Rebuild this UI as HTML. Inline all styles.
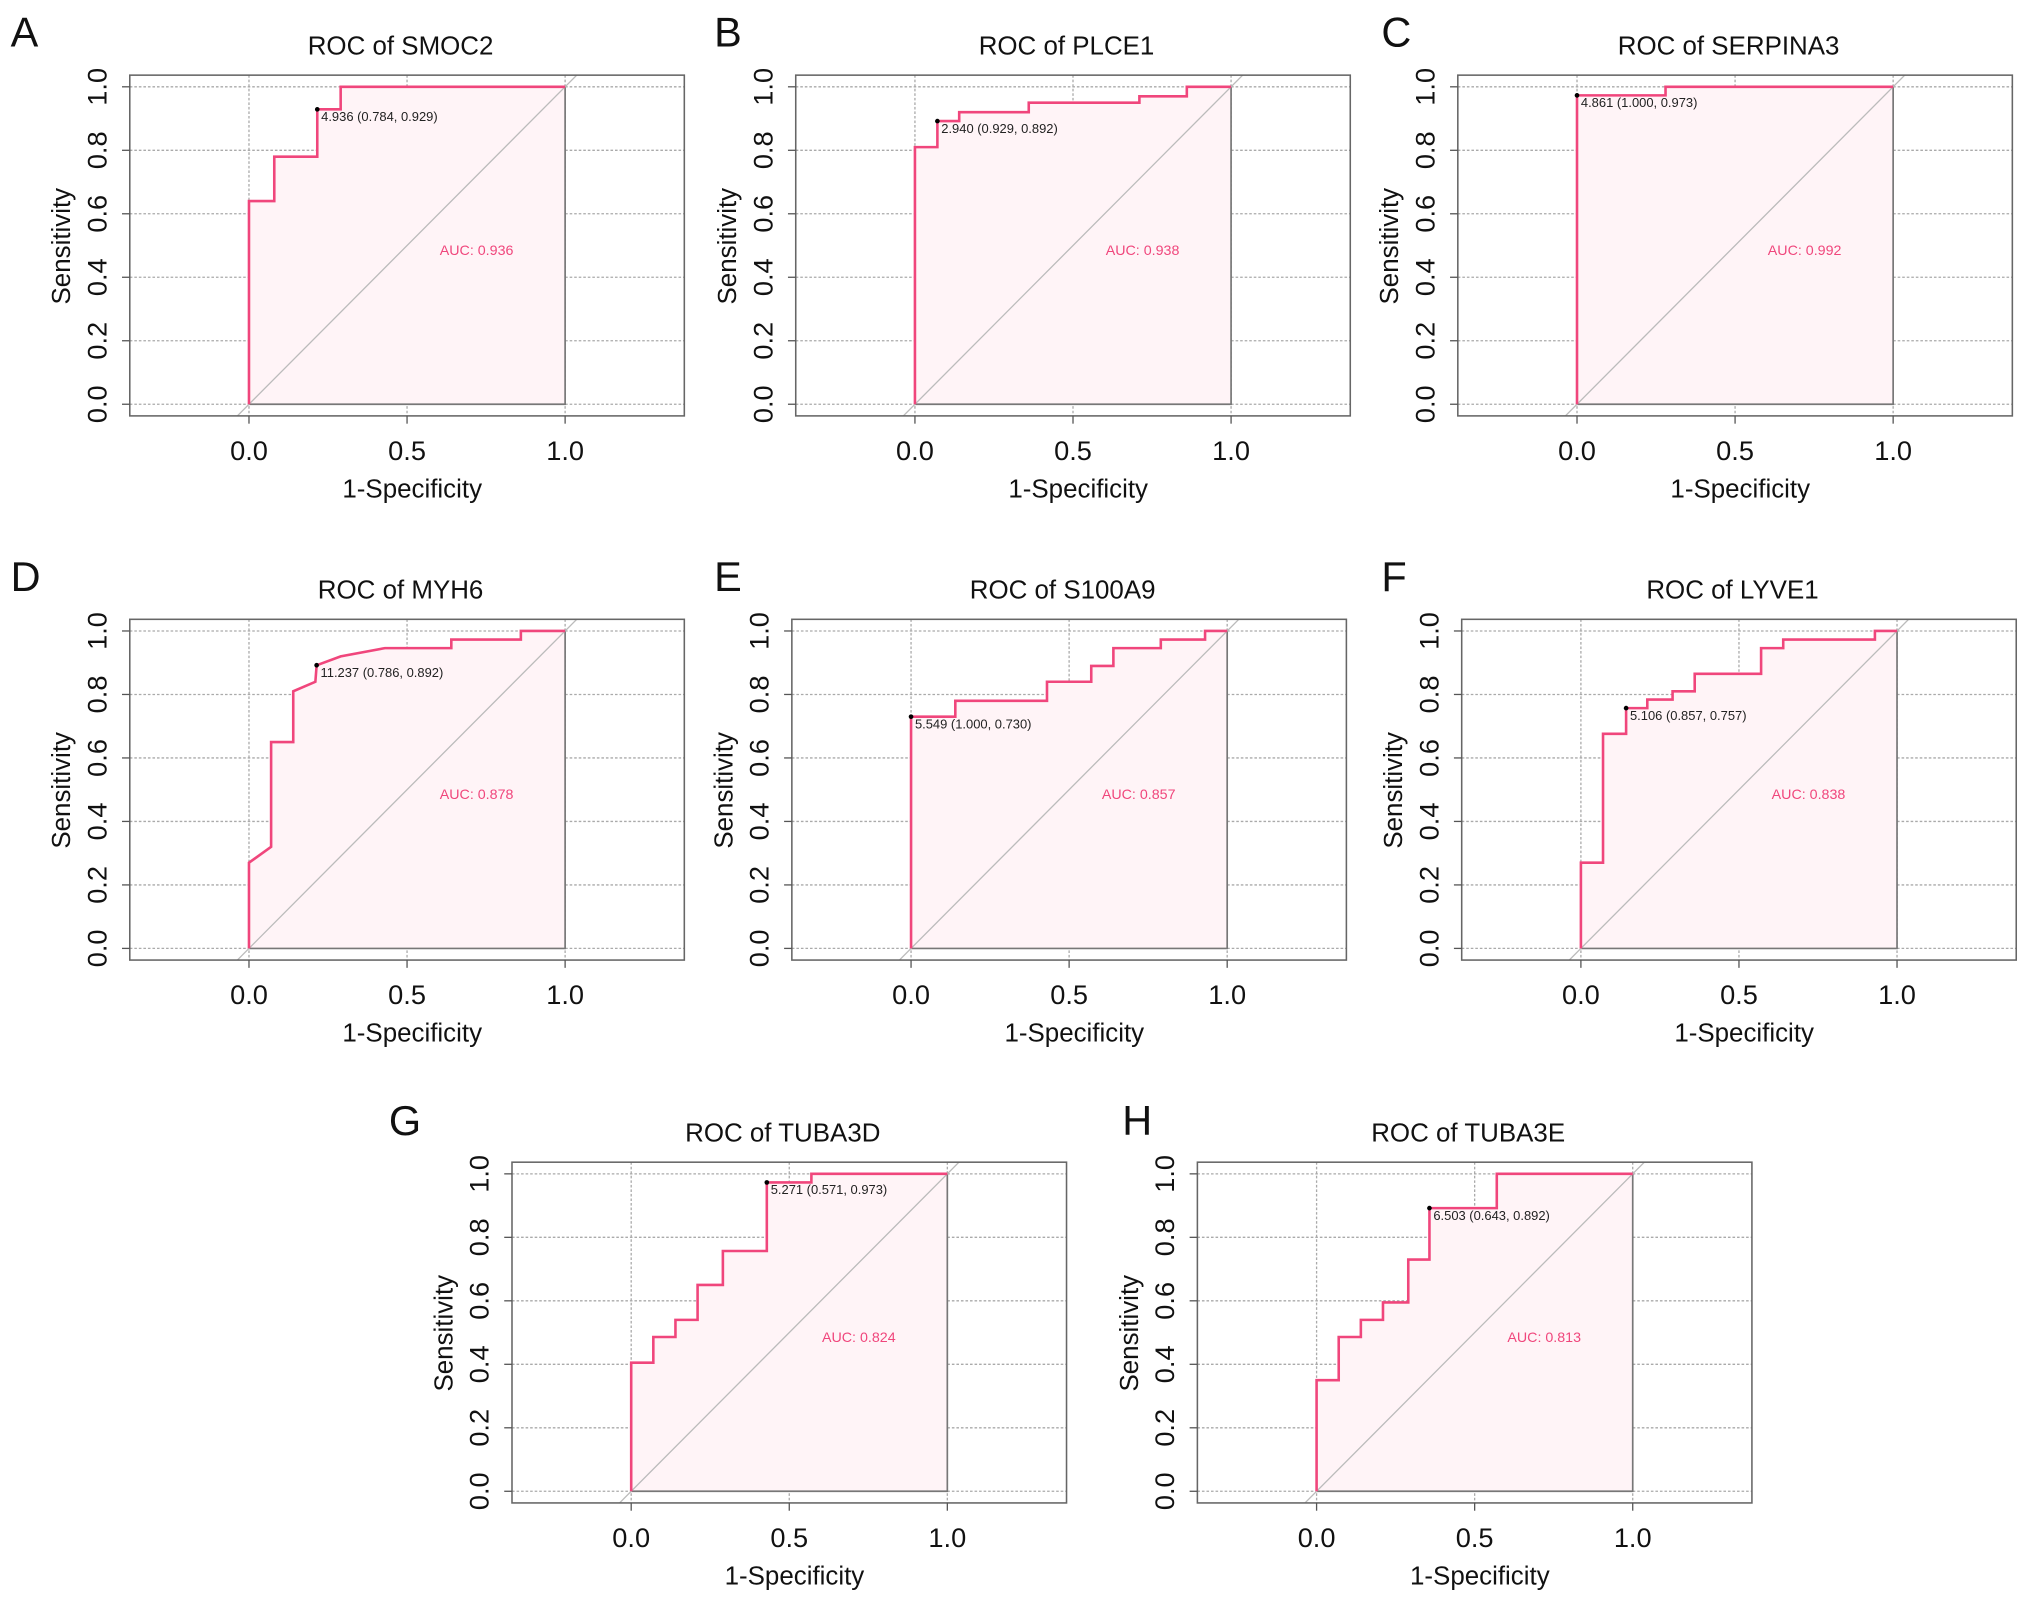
<!DOCTYPE html>
<html><head><meta charset="utf-8"><style>
html,body{margin:0;padding:0;background:#fff;}
svg{display:block;font-family:"Liberation Sans",Arial,sans-serif;}
</style></head>
<body>
<svg id="fig" width="2032" height="1604" viewBox="0 0 1568 1238" xmlns="http://www.w3.org/2000/svg"></svg>
<script>
// ---- data ----
const panelLetters = ["A","B","C","D","E","F","G","H"];
const genes = ["SMOC2","PLCE1","SERPINA3","MYH6","S100A9","LYVE1","TUBA3D","TUBA3E"];
const aucValues = ["0.936","0.938","0.992","0.878","0.857","0.838","0.824","0.813"];
const thrLabels = ["4.936 (0.784, 0.929)","2.940 (0.929, 0.892)","4.861 (1.000, 0.973)","11.237 (0.786, 0.892)","5.549 (1.000, 0.730)","5.106 (0.857, 0.757)","5.271 (0.571, 0.973)","6.503 (0.643, 0.892)"];
const thrX = [0.216,0.071,0,0.214,0,0.143,0.429,0.357];
const thrY = [0.929,0.892,0.973,0.892,0.730,0.757,0.973,0.892];
const fprA = [0,0,0.08,0.08,0.216,0.216,0.29,0.29,1];
const tprA = [0,0.64,0.64,0.78,0.78,0.929,0.929,1,1];
const fprB = [0,0,0.071,0.071,0.14,0.14,0.36,0.36,0.71,0.71,0.86,0.86,1];
const tprB = [0,0.81,0.81,0.892,0.892,0.92,0.92,0.95,0.95,0.97,0.97,1,1];
const fprC = [0,0,0.28,0.28,1];
const tprC = [0,0.973,0.973,1,1];
const fprD = [0,0,0.07,0.07,0.14,0.14,0.21,0.214,0.29,0.43,0.64,0.64,0.86,0.86,1];
const tprD = [0,0.27,0.32,0.65,0.65,0.81,0.84,0.892,0.92,0.946,0.946,0.973,0.973,1,1];
const fprE = [0,0,0.14,0.14,0.43,0.43,0.57,0.57,0.64,0.64,0.79,0.79,0.93,0.93,1];
const tprE = [0,0.73,0.73,0.78,0.78,0.84,0.84,0.89,0.89,0.946,0.946,0.973,0.973,1,1];
const fprF = [0,0,0.07,0.07,0.143,0.143,0.21,0.21,0.29,0.29,0.36,0.36,0.57,0.57,0.64,0.64,0.93,0.93,1];
const tprF = [0,0.27,0.27,0.676,0.676,0.757,0.757,0.784,0.784,0.81,0.81,0.865,0.865,0.946,0.946,0.973,0.973,1,1];
const fprG = [0,0,0.07,0.07,0.14,0.14,0.21,0.21,0.29,0.29,0.429,0.429,0.57,0.57,1];
const tprG = [0,0.405,0.405,0.486,0.486,0.54,0.54,0.65,0.65,0.757,0.757,0.973,0.973,1,1];
const fprH = [0,0,0.07,0.07,0.14,0.14,0.21,0.21,0.29,0.29,0.357,0.357,0.57,0.57,1];
const tprH = [0,0.35,0.35,0.486,0.486,0.54,0.54,0.595,0.595,0.73,0.73,0.892,0.892,1,1];
const fprAll = [fprA,fprB,fprC,fprD,fprE,fprF,fprG,fprH];
const tprAll = [tprA,tprB,tprC,tprD,tprE,tprF,tprG,tprH];
const xTicks = [0,0.5,1];
const xTickLabels = ["0.0","0.5","1.0"];
const yTicks = [0,0.2,0.4,0.6,0.8,1];
const yTickLabels = ["0.0","0.2","0.4","0.6","0.8","1.0"];

// ---- layout (display coords) ----
const offs = [[0,0],[514,0],[1025,0],[0,420],[511,420],[1028,420],[295,839],[824,839]];
const letterPos = [[8,36],[551,36],[1066,36],[8,456],[551,456],[1066,456],[300,876],[866,876]];
const NS="http://www.w3.org/2000/svg";
const svg=document.getElementById('fig');
function mk(tag,attrs,parent){const e=document.createElementNS(NS,tag);for(const k in attrs)e.setAttribute(k,attrs[k]);(parent||svg).appendChild(e);return e;}

for(let p=0;p<8;p++){
  const dx=offs[p][0], dy=offs[p][1];
  const g=mk('g',{});
  
  
  const x0=192+dx, ux=244, y0=312+dy, uy=245;
  const sx=v=>x0+v*ux, sy=v=>y0-v*uy;
  const bl=100+dx, br=528+dx, bt=58+dy, bb=321+dy;
  const cid='clip'+p;
  const cp=mk('clipPath',{id:cid},g); mk('rect',{x:bl,y:bt,width:br-bl,height:bb-bt},cp);
  // grid
  const grid=mk('g',{stroke:'#aaa','stroke-width':1,'stroke-dasharray':'2,1.5'},g);
   
  xTicks.forEach(t=>mk('line',{x1:sx(t),x2:sx(t),y1:bt,y2:bb},grid));
  yTicks.forEach(t=>mk('line',{x1:bl,x2:br,y1:sy(t),y2:sy(t)},grid));
  // fill polygon
  const fpr=fprAll[p], tpr=tprAll[p];
  let pts=fpr.map((f,i)=>sx(f)+','+sy(tpr[i])).join(' ')+' '+sx(1)+','+sy(0);
  const poly=mk('polygon',{points:pts,fill:'#fff4f7',stroke:'#777','stroke-width':1.3},g);
   
  // diagonal
  const dg=mk('line',{x1:sx(-0.05),y1:sy(-0.05),x2:sx(1.05),y2:sy(1.05),stroke:'#bbb','stroke-width':1,'clip-path':'url(#'+cid+')'},g);
   
  // curve
  const cv=mk('polyline',{points:fpr.map((f,i)=>sx(f)+','+sy(tpr[i])).join(' '),fill:'none',stroke:'#f0467c','stroke-width':2},g);
   
  // box
  const bx=mk('rect',{x:bl,y:bt,width:br-bl,height:bb-bt,fill:'none',stroke:'#666','stroke-width':1.2},g);
   
  // threshold
  const tp=mk('circle',{cx:sx(thrX[p]),cy:sy(thrY[p]),r:1.8,fill:'#000'},g);
   
  const tl=mk('text',{x:sx(thrX[p])+3,y:sy(thrY[p])+9,'font-size':10,fill:'#222'},g);
  tl.textContent=thrLabels[p];
   
  const al=mk('text',{x:sx(0.72),y:sy(0.47),'font-size':11,fill:'#f0467c','text-anchor':'middle'},g);
  al.textContent='AUC: '+aucValues[p];
   
  // ticks
  xTicks.forEach((t,i)=>{const tx=mk('text',{x:sx(t),y:bb+34,'font-size':21,'text-anchor':'middle',fill:'#111'},g);tx.textContent=xTickLabels[i];
     
    mk('line',{x1:sx(t),x2:sx(t),y1:bb,y2:bb+6,stroke:'#555'},g);});
  yTicks.forEach((t,i)=>{const ty=mk('text',{x:0,y:0,'font-size':21,'text-anchor':'middle',fill:'#111',transform:`translate(${bl-18},${sy(t)}) rotate(-90)`},g);ty.textContent=yTickLabels[i];
     
    mk('line',{x1:bl-6,x2:bl,y1:sy(t),y2:sy(t),stroke:'#555'},g);});
  const xt=mk('text',{x:318+dx,y:384+dy,'font-size':20,'text-anchor':'middle',fill:'#111'},g);xt.textContent='1-Specificity';
   
  const yt=mk('text',{x:0,y:0,'font-size':20,'text-anchor':'middle',fill:'#111',transform:`translate(${54+dx},${190+dy}) rotate(-90)`},g);yt.textContent='Sensitivity';
   
  const ti=mk('text',{x:309+dx,y:42+dy,'font-size':20,'text-anchor':'middle',fill:'#111'},g);ti.textContent='ROC of '+genes[p];
   
  const lt=mk('text',{x:letterPos[p][0],y:letterPos[p][1],'font-size':32,fill:'#111'},g);lt.textContent=panelLetters[p];
   
}
</script>
</body></html>
